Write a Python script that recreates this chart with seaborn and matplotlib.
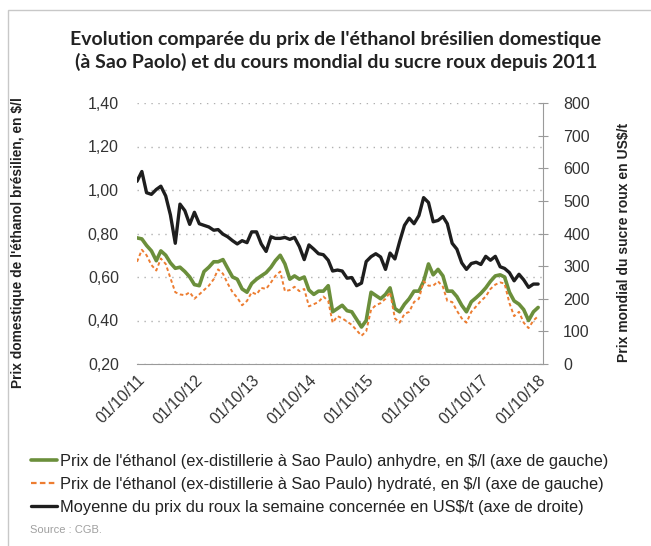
import numpy as np
import pandas as pd
import matplotlib.pyplot as plt
import matplotlib.dates as mdates
import matplotlib.ticker as mticker
import seaborn as sns
from matplotlib.patches import Rectangle
from matplotlib.lines import Line2D

# Données (lecture mensuelle du graphique, oct. 2011 -> oct. 2018)
mois = pd.date_range('2011-10-01', '2018-10-01', freq='MS')

anhydre = [0.78, 0.775, 0.745, 0.72, 0.675, 0.72, 0.70, 0.665, 0.64, 0.645,
           0.625, 0.60, 0.565, 0.56, 0.625, 0.645, 0.67, 0.67, 0.68, 0.64,
           0.60, 0.59, 0.545, 0.53, 0.57, 0.59, 0.605, 0.62, 0.645, 0.675,
           0.70, 0.66, 0.59, 0.605, 0.59, 0.60, 0.54, 0.52, 0.535, 0.535,
           0.56, 0.44, 0.455, 0.47, 0.445, 0.44, 0.405, 0.37, 0.40, 0.53,
           0.515, 0.50, 0.52, 0.55, 0.455, 0.44, 0.475, 0.50, 0.535, 0.535,
           0.58, 0.66, 0.61, 0.635, 0.605, 0.535, 0.535, 0.51, 0.47, 0.44,
           0.486, 0.505, 0.525, 0.55, 0.58, 0.605, 0.61, 0.60, 0.53, 0.49,
           0.475, 0.45, 0.40, 0.44, 0.46]

hydrate = [0.67, 0.725, 0.70, 0.655, 0.63, 0.685, 0.66, 0.595, 0.53, 0.52,
           0.516, 0.53, 0.50, 0.52, 0.54, 0.56, 0.59, 0.635, 0.615, 0.57,
           0.53, 0.505, 0.47, 0.49, 0.53, 0.52, 0.55, 0.545, 0.575, 0.605,
           0.625, 0.535, 0.54, 0.555, 0.535, 0.545, 0.465, 0.475, 0.485, 0.51,
           0.49, 0.39, 0.42, 0.41, 0.395, 0.38, 0.355, 0.33, 0.35, 0.45,
           0.47, 0.48, 0.50, 0.53, 0.41, 0.39, 0.43, 0.44, 0.485, 0.50,
           0.58, 0.56, 0.56, 0.58, 0.555, 0.49, 0.485, 0.445, 0.41, 0.39,
           0.44, 0.465, 0.49, 0.51, 0.545, 0.565, 0.575, 0.57, 0.48, 0.42,
           0.44, 0.39, 0.365, 0.40, 0.42]

roux = [560, 590, 525, 520, 535, 545, 515, 457, 370, 490,
        470, 428, 465, 430, 425, 420, 410, 412, 398, 390,
        378, 368, 378, 372, 405, 405, 368, 345, 390, 385,
        385, 388, 382, 388, 360, 320, 365, 352, 338, 335,
        318, 285, 288, 285, 263, 265, 240, 248, 314, 329,
        338, 328, 290, 340, 322, 375, 425, 447, 430, 455,
        510, 495, 436, 440, 452, 430, 370, 352, 310, 290,
        308, 312, 305, 330, 318, 330, 298, 293, 280, 255,
        275, 258, 235, 245, 245]

df = pd.DataFrame({'date': mois, 'anhydre': anhydre,
                   'hydrate': hydrate, 'roux': roux})

vert = '#6b8f3b'
orange = '#ed7d31'
noir = '#1e1e1e'
gris = '#9a9a9a'

sns.set_style('white')
plt.rcParams['font.family'] = ['Liberation Sans', 'DejaVu Sans']

fig = plt.figure(figsize=(6.51, 5.46), dpi=100)
ax = fig.add_axes([137/651, 1 - 364/546, 406/651, 261/546])
ax2 = ax.twinx()

sns.lineplot(data=df, x='date', y='anhydre', ax=ax, color=vert, lw=2.6)
sns.lineplot(data=df, x='date', y='hydrate', ax=ax, color=orange, lw=1.4,
             linestyle=(0, (1.8, 1.4)))
sns.lineplot(data=df, x='date', y='roux', ax=ax2, color=noir, lw=2.4)

# axe de gauche
ax.set_ylim(0.2, 1.4)
ax.set_yticks(np.arange(0.2, 1.41, 0.2))
ax.yaxis.set_major_formatter(mticker.FuncFormatter(lambda v, p: f'{v:.2f}'.replace('.', ',')))
ax.yaxis.grid(True, linestyle=(0, (1, 4)), color='#b0b0b0', lw=1)
ax.tick_params(axis='y', length=0, pad=13, labelsize=11.5, labelcolor='#333333')
ax.set_xlabel('')
ax.set_ylabel('')

# axe des dates
ax.set_xlim(pd.Timestamp('2011-10-01'), pd.Timestamp('2018-11-01'))
ax.xaxis.set_major_locator(mdates.MonthLocator(bymonth=10))
ax.xaxis.set_minor_locator(mdates.MonthLocator())
ax.xaxis.set_major_formatter(mdates.DateFormatter('%d/%m/%y'))
ax.tick_params(axis='x', which='major', direction='inout', length=8,
               color=gris, labelsize=11.5, labelcolor='#333333', pad=2)
ax.tick_params(axis='x', which='minor', direction='in', length=3, color=gris)
for lab in ax.get_xticklabels():
    lab.set_rotation(45)
    lab.set_ha('right')
    lab.set_va('top')
    lab.set_rotation_mode('anchor')

for s in ['left', 'right', 'top']:
    ax.spines[s].set_visible(False)
ax.spines['bottom'].set_color(gris)

# axe de droite
ax2.set_ylim(0, 800)
ax2.set_yticks(range(0, 801, 100))
ax2.tick_params(axis='y', direction='inout', length=7, color=gris, pad=11,
                labelsize=11.5, labelcolor='#333333')
ax2.set_ylabel('')
for s in ['left', 'bottom', 'top']:
    ax2.spines[s].set_visible(False)
ax2.spines['right'].set_color(gris)

# titres
fig.text(0.516, 1 - 40/546, "Evolution comparée du prix de l'éthanol brésilien domestique",
         ha='center', va='center', fontsize=14, fontweight='bold',
         family=['Lato', 'DejaVu Sans'], color='#222222')
fig.text(0.516, 1 - 62/546, "(à Sao Paolo) et du cours mondial du sucre roux depuis 2011",
         ha='center', va='center', fontsize=14, fontweight='bold',
         family=['Lato', 'DejaVu Sans'], color='#222222')

fig.text(18/651, 1 - 243/546, "Prix domestique de l'éthanol brésilien, en $/l",
         rotation=90, ha='center', va='center', fontsize=9.9, fontweight='bold',
         color='#222222')
fig.text(624/651, 1 - 242/546, "Prix mondial du sucre roux en US$/t",
         rotation=90, ha='center', va='center', fontsize=10, fontweight='bold',
         color='#222222')

# légende
handles = [Line2D([], [], color=vert, lw=2.6),
           Line2D([], [], color=orange, lw=1.6, linestyle=(0, (2.5, 1.5))),
           Line2D([], [], color=noir, lw=2.4)]
labels = ["Prix de l'éthanol (ex-distillerie à Sao Paulo) anhydre, en $/l (axe de gauche)",
          "Prix de l'éthanol (ex-distillerie à Sao Paulo) hydraté, en $/l (axe de gauche)",
          "Moyenne du prix du roux la semaine concernée en US$/t (axe de droite)"]
fig.legend(handles, labels, loc='upper left', bbox_to_anchor=(16/651, 1 - 439/546),
           frameon=False, fontsize=11.8, handlelength=1.6, handletextpad=0.2,
           labelspacing=0.49, labelcolor='#222222')

fig.text(30/651, 1 - 530/546, 'Source : CGB.', fontsize=8, color='#a0a0a0',
         va='center')

# cadre
fig.patches.append(Rectangle((8/651, -0.1), 1.2, 1.1 - 10/546, transform=fig.transFigure,
                             fill=False, edgecolor='#c8c8c8', lw=1))

fig.savefig('out.png', dpi=100)
